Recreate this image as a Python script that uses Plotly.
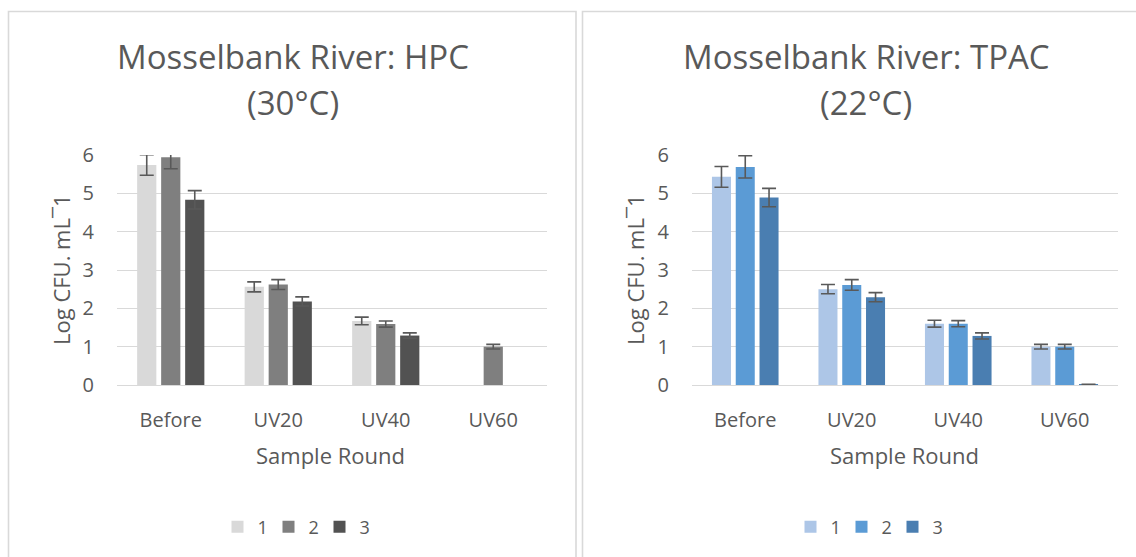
import plotly.graph_objects as go

W, H = 1136, 557

categories = ["Before", "UV20", "UV40", "UV60"]
series_names = ["1", "2", "3"]

hpc_1 = [5.74, 2.56, 1.67, None]
hpc_2 = [5.94, 2.62, 1.59, 1.00]
hpc_3 = [4.83, 2.18, 1.29, None]
hpc_err_1 = [0.27, 0.13, 0.10, None]
hpc_err_2 = [0.30, 0.13, 0.08, 0.06]
hpc_err_3 = [0.24, 0.12, 0.07, None]

tpac_1 = [5.43, 2.50, 1.60, 1.00]
tpac_2 = [5.69, 2.61, 1.60, 1.00]
tpac_3 = [4.89, 2.29, 1.28, 0.02]
tpac_err_1 = [0.27, 0.12, 0.09, 0.06]
tpac_err_2 = [0.29, 0.14, 0.08, 0.06]
tpac_err_3 = [0.24, 0.12, 0.08, None]

y_ticks = [0, 1, 2, 3, 4, 5, 6]

grey_colors = ["#D9D9D9", "#7F7F7F", "#525252"]
blue_colors = ["#ADC6E7", "#5B9BD5", "#4A7EB1"]

FONT = "Open Sans"
TXT = "#595959"
GRID = "#D9D9D9"

fig = go.Figure()


def add_panel(vals, errs, colors, xa, ya, legend):
    for name, v, e, c in zip(series_names, vals, errs, colors):
        fig.add_trace(go.Bar(
            x=categories, y=v, name=name, marker_color=c,
            marker_line_width=0,
            error_y=dict(type="data", array=e, visible=True,
                         color="#595959", thickness=1.6, width=7),
            xaxis=xa, yaxis=ya, legend=legend,
        ))


add_panel([hpc_1, hpc_2, hpc_3], [hpc_err_1, hpc_err_2, hpc_err_3],
          grey_colors, "x", "y", "legend")
add_panel([tpac_1, tpac_2, tpac_3], [tpac_err_1, tpac_err_2, tpac_err_3],
          blue_colors, "x2", "y2", "legend2")

ydom = [1 - 385 / H, 1 - 155 / H]
xdom1 = [117 / W, 547 / W]
xdom2 = [692 / W, 1118 / W]

xcommon = dict(showgrid=False, showline=True, linecolor=GRID, linewidth=1,
               ticks="", tickfont=dict(family=FONT, size=20, color=TXT),
               ticklabelstandoff=17, automargin=False)
ycommon = dict(range=[0, 6], tickvals=y_ticks, showgrid=True, gridcolor=GRID,
               gridwidth=1, zeroline=False, showline=False, ticks="",
               tickfont=dict(family=FONT, size=20, color=TXT),
               ticklabelstandoff=22, automargin=False)

legend_common = dict(orientation="h", xanchor="center",
                     y=1 - 527 / H, yanchor="middle",
                     font=dict(family=FONT, size=18, color=TXT),
                     itemwidth=30, entrywidth=6, entrywidthmode="pixels",
                     bgcolor="rgba(0,0,0,0)")

fig.update_layout(
    width=W, height=H,
    margin=dict(l=0, r=0, t=0, b=0, autoexpand=False),
    paper_bgcolor="white", plot_bgcolor="white",
    barmode="group", bargap=0.33, bargroupgap=0.2,
    font=dict(family=FONT, color=TXT),
    xaxis=dict(domain=xdom1, anchor="y", **xcommon),
    yaxis=dict(domain=ydom, anchor="x", **ycommon),
    xaxis2=dict(domain=xdom2, anchor="y2", **xcommon),
    yaxis2=dict(domain=ydom, anchor="x2", **ycommon),
    legend=dict(x=294 / W, **legend_common),
    legend2=dict(x=867 / W, **legend_common),
    showlegend=True,
)

# panel borders
fig.add_shape(type="rect", xref="paper", yref="paper",
              x0=8.5 / W, x1=576 / W, y0=-0.05, y1=1 - 11.5 / H,
              line=dict(color=GRID, width=1.6), layer="below")
fig.add_shape(type="rect", xref="paper", yref="paper",
              x0=582.5 / W, x1=1.05, y0=-0.05, y1=1 - 11.5 / H,
              line=dict(color=GRID, width=1.6), layer="below")

titles = [
    ("Mosselbank River: HPC", "(30°C)", 293),
    ("Mosselbank River: TPAC", "(22°C)", 866),
]
for l1, l2, cx in titles:
    fig.add_annotation(text=l1, xref="paper", yref="paper", x=cx / W,
                       y=1 - 56 / H, xanchor="center", yanchor="middle",
                       showarrow=False, font=dict(family=FONT, size=33, color=TXT))
    fig.add_annotation(text=l2, xref="paper", yref="paper", x=cx / W,
                       y=1 - 103 / H, xanchor="center", yanchor="middle",
                       showarrow=False, font=dict(family=FONT, size=33, color=TXT))

for cx, ycx in [(331, 61), (904, 635)]:
    fig.add_annotation(text="Sample Round", xref="paper", yref="paper",
                       x=cx / W, y=1 - 455 / H, xanchor="center",
                       yanchor="middle", showarrow=False,
                       font=dict(family=FONT, size=22, color=TXT))
    fig.add_annotation(text="Log CFU. mL¯1", xref="paper", yref="paper",
                       x=ycx / W, y=1 - 270 / H, xanchor="center",
                       yanchor="middle", textangle=-90, showarrow=False,
                       font=dict(family=FONT, size=22, color=TXT))

fig.write_html("out.html")
